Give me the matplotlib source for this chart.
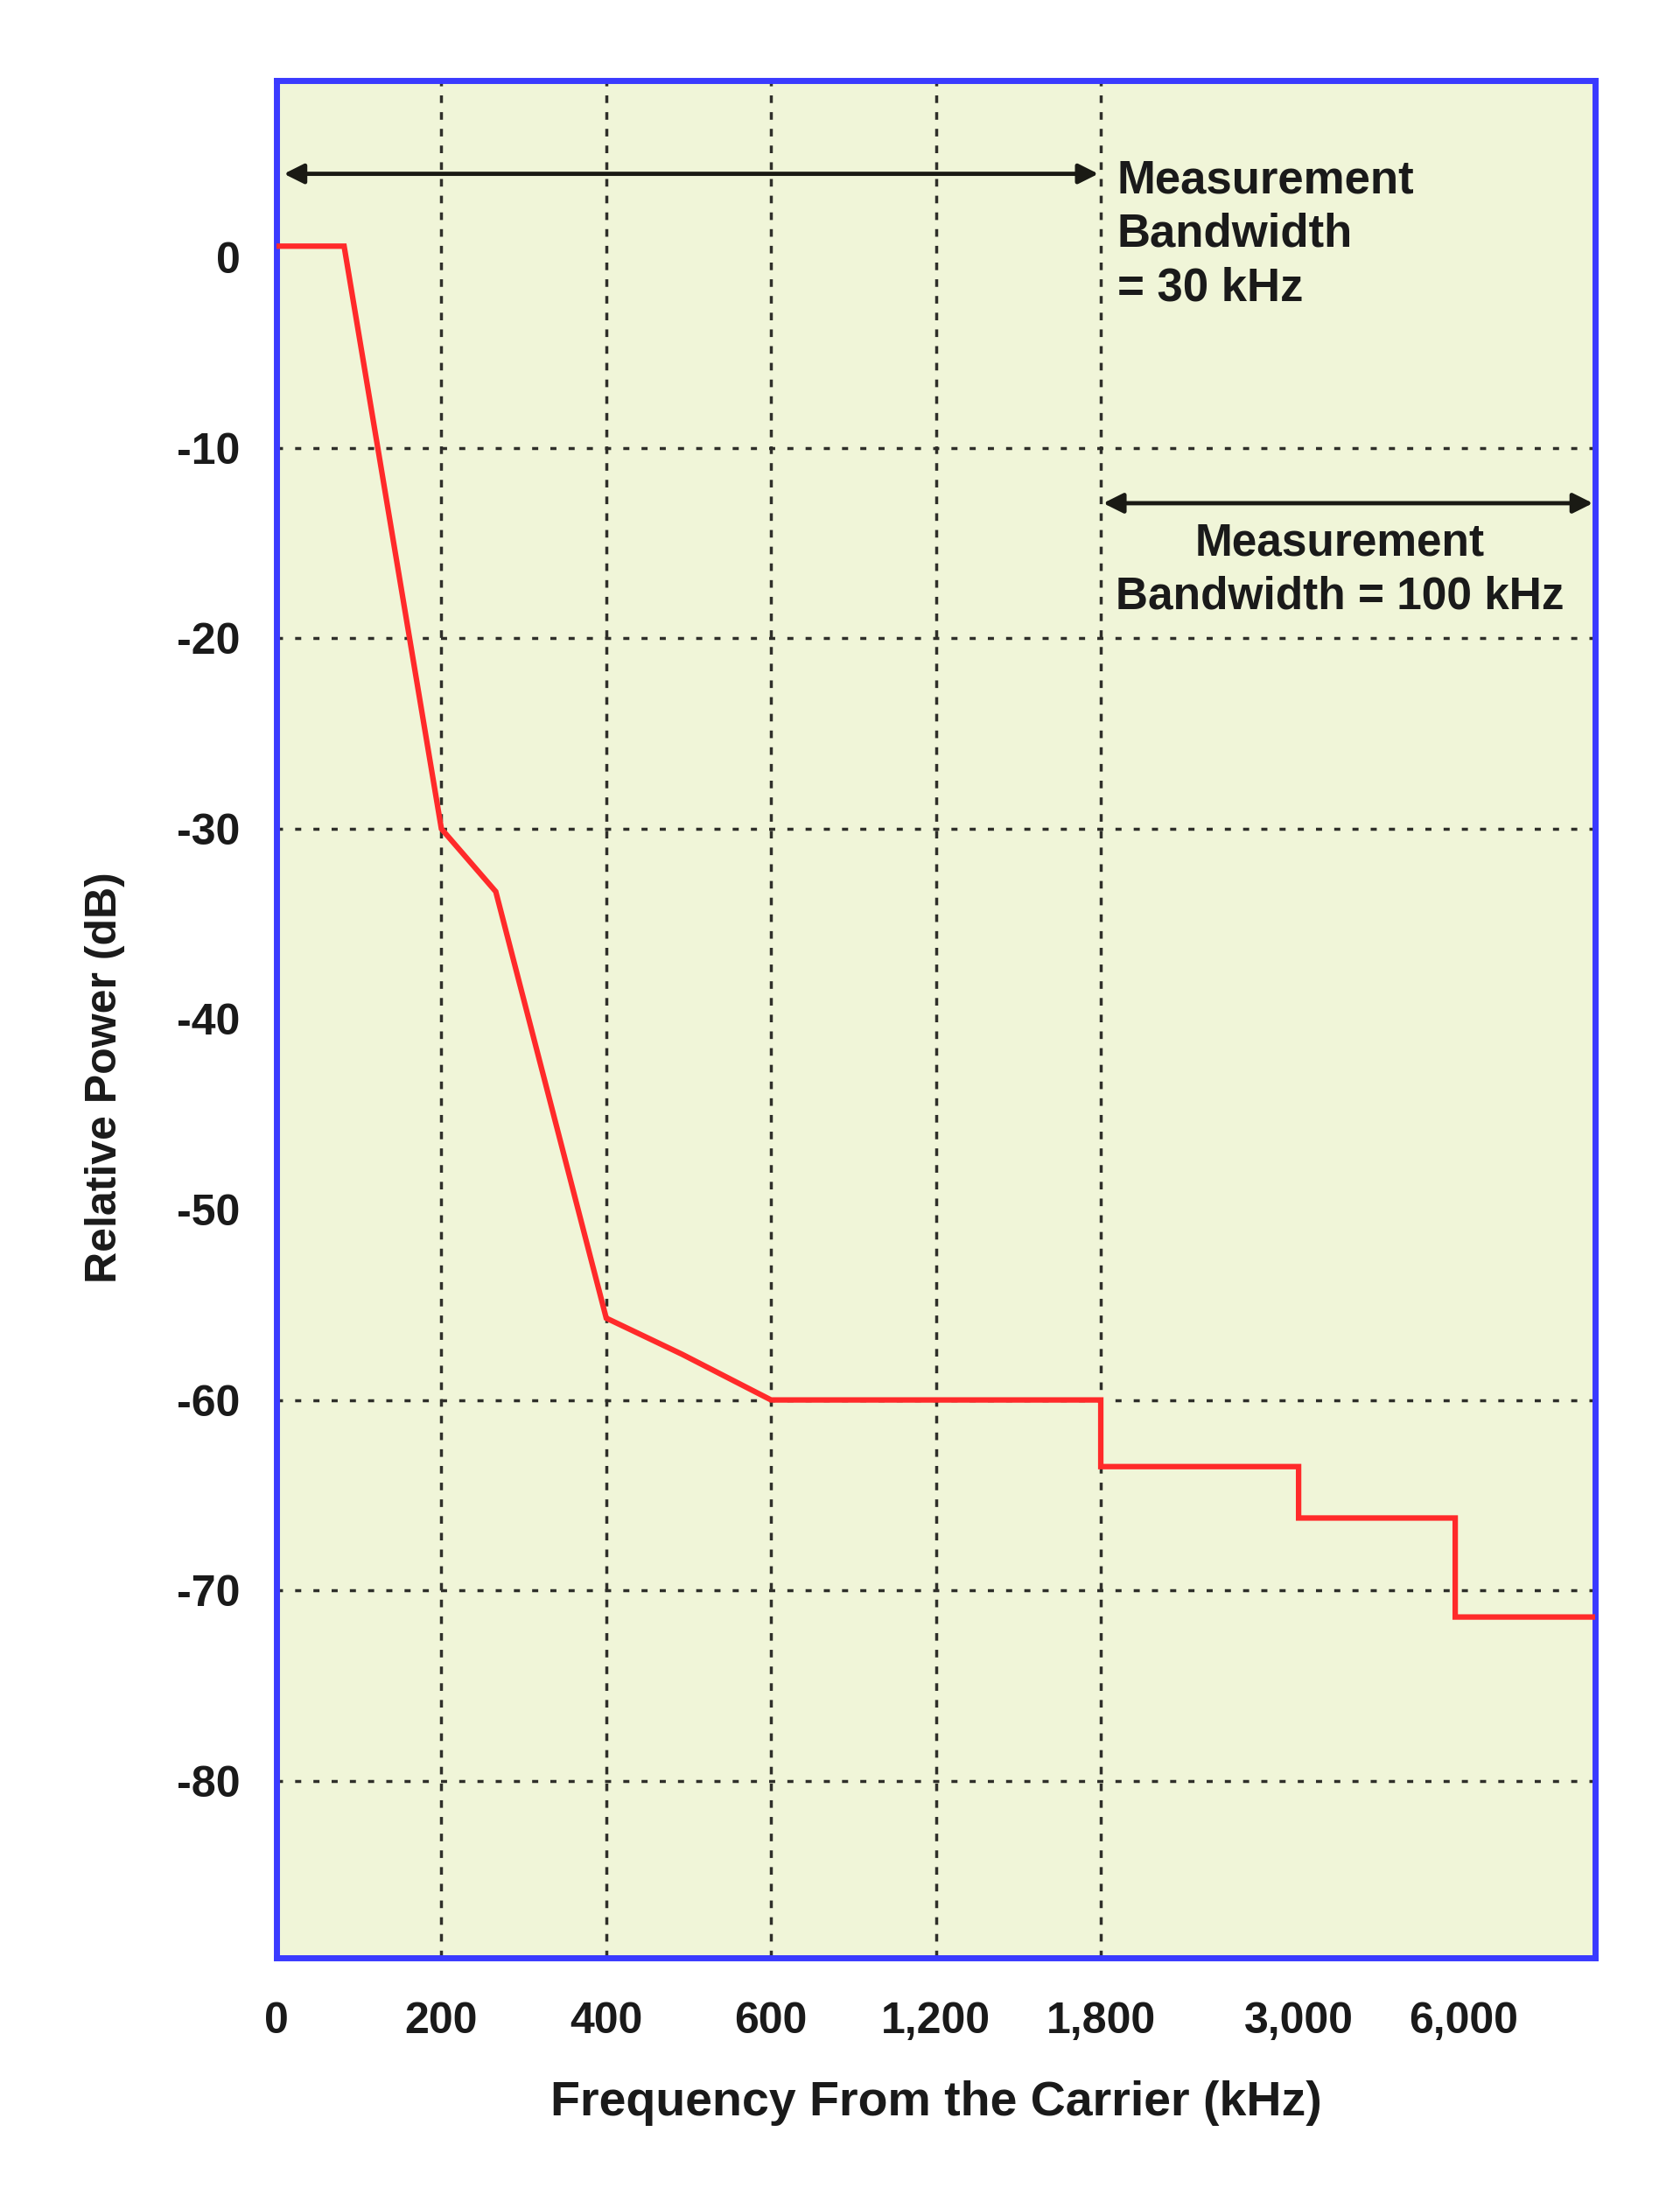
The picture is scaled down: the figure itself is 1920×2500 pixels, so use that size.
import numpy as np
import matplotlib.pyplot as plt

# x axis is not linear: each labelled frequency sits on its own slot
tick_khz = [0, 200, 400, 600, 1200, 1800, 3000, 6000]
tick_pos = [0, 1, 2, 3, 4, 5, 6.2, 7.2]
grid_khz = [200, 400, 600, 1200, 1800]
y_ticks = [0, -10, -20, -30, -40, -50, -60, -70, -80]
y_grid = [-10, -20, -30, -60, -70, -80]

# mask curve, x given in slot units, y in dB
mask_x = [0, 0.41, 1.0, 1.33, 2.0, 2.46, 3.0, 5.0, 5.0, 6.2, 6.2, 7.15, 7.15, 8.0]
mask_y = [0.6, 0.6, -30.0, -33.3, -55.7, -57.6, -60.0, -60.0, -63.5, -63.5, -66.2, -66.2, -71.4, -71.4]

plt.rcParams['font.family'] = ['Liberation Sans', 'DejaVu Sans']
plt.rcParams['font.weight'] = 'bold'
plt.rcParams['axes.unicode_minus'] = False

fig = plt.figure(figsize=(19.2, 25), dpi=100)
ax = fig.add_axes([0.1646, 0.1052, 0.785, 0.858])
ax.set_facecolor("#f0f5d8")

ax.set_xlim(0, 8)
ax.set_ylim(-89.3, 9.3)

for g in grid_khz:
    ax.axvline(tick_pos[tick_khz.index(g)], color="#2f2f2a", lw=2.5, ls=(0, (2.5, 3)), zorder=1)
for g in y_grid:
    ax.axhline(g, color="#2f2f2a", lw=2.5, ls=(0, (2, 4)), zorder=1)

ax.plot(mask_x, mask_y, color="#ff2a2a", lw=4.5, zorder=3, solid_joinstyle="miter")

# bandwidth arrows
ax.annotate("", xy=(0.03, 4.4), xytext=(5.0, 4.4),
            arrowprops=dict(arrowstyle="<|-|>", color="#1a1a14", lw=3.5, mutation_scale=34))
ax.annotate("", xy=(5.0, -12.9), xytext=(8.0, -12.9),
            arrowprops=dict(arrowstyle="<|-|>", color="#1a1a14", lw=3.5, mutation_scale=34))
ax.text(5.1, 5.2, "Measurement\nBandwidth\n= 30 kHz", fontsize=38, fontweight="bold",
        color="#1a1a1a", ha="left", va="top", linespacing=1.3, zorder=4)
ax.text(6.45, -13.9, "Measurement\nBandwidth = 100 kHz", fontsize=37, fontweight="bold",
        color="#1a1a1a", ha="center", va="top", linespacing=1.3, zorder=4)

ax.set_xticks(tick_pos)
ax.set_xticklabels([f"{k:,}" for k in tick_khz])
ax.set_yticks(y_ticks)
ax.tick_params(length=0, labelsize=36, colors="#1a1a1a")
ax.tick_params(axis="y", pad=30)
ax.tick_params(axis="x", pad=36)
for lab in ax.get_xticklabels() + ax.get_yticklabels():
    lab.set_fontweight("bold")

ax.set_xlabel("Frequency From the Carrier (kHz)", fontsize=40, fontweight="bold", labelpad=32, color="#1a1a1a")
ax.set_ylabel("Relative Power (dB)", fontsize=36, fontweight="bold", color="#1a1a1a")
ax.yaxis.set_label_coords(-0.115, 0.469)

for s in ax.spines.values():
    s.set_color("#3a3aff")
    s.set_linewidth(5)

fig.savefig("out.png", dpi=100, facecolor="white")
